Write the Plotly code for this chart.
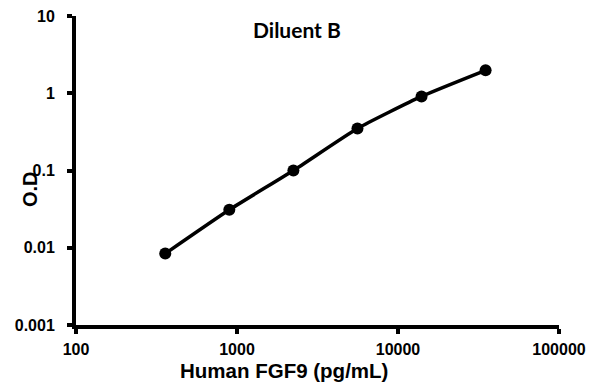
import plotly.graph_objects as go

concentration = [358.4, 896, 2240, 5600, 14000, 35000]
od = [0.0084, 0.031, 0.1, 0.35, 0.91, 1.98]
x_ticks = [100, 1000, 10000, 100000]
x_ticklabels = ["100", "1000", "10000", "100000"]
y_ticks = [0.001, 0.01, 0.1, 1, 10]
y_ticklabels = ["0.001", "0.01", "0.1", "1", "10"]

W, H = 595, 384
l, r, t, b = 76, 36, 16, 59
pw, ph = W - l - r, H - t - b
def px(xp): return (xp - l) / pw
def py(yp): return (H - b - yp) / ph

fig = go.Figure()
fig.add_trace(go.Scatter(
    x=concentration, y=od, mode="lines+markers",
    line=dict(color="black", width=3.5, shape="spline", smoothing=0.5),
    marker=dict(color="black", size=12),
    showlegend=False, cliponaxis=False,
))

axis_common = dict(
    showline=True, linecolor="black", linewidth=4,
    ticks="outside", ticklen=5, tickwidth=4, tickcolor="black",
    showgrid=False, zeroline=False, mirror=False, automargin=False,
    tickfont=dict(family="Liberation Sans, Arial", size=16, color="black"),
)

fig.update_xaxes(type="log", range=[2, 5], tickvals=x_ticks,
                 ticktext=["<b>%s</b>" % s for s in x_ticklabels],
                 ticklabelstandoff=2, **axis_common)
fig.update_yaxes(type="log", range=[-3, 1], tickvals=y_ticks,
                 ticktext=["<b>%s</b>" % s for s in y_ticklabels],
                 ticklabelstandoff=9, **axis_common)

fig.update_layout(
    width=W, height=H,
    margin=dict(l=l, r=r, t=t, b=b, pad=0, autoexpand=False),
    plot_bgcolor="white", paper_bgcolor="white",
)

fig.add_annotation(text="<b>Diluent B</b>", x=px(297), y=py(29), xref="paper", yref="paper",
                   xanchor="center", yanchor="middle", showarrow=False,
                   font=dict(family="Lato, Open Sans", size=21, color="black"))
fig.add_annotation(text="<b>Human FGF9 (pg/mL)</b>", x=px(284), y=py(370), xref="paper", yref="paper",
                   xanchor="center", yanchor="middle", showarrow=False,
                   font=dict(family="Liberation Sans, Arial", size=20.5, color="black"))
fig.add_annotation(text="<b>O.D</b>", x=px(30), y=py(189), xref="paper", yref="paper",
                   xanchor="center", yanchor="middle", showarrow=False, textangle=-90,
                   font=dict(family="Liberation Sans, Arial", size=20, color="black"))

fig.write_html("out.html", config={"displayModeBar": False},
               post_script="document.body.style.margin='0';document.body.style.overflow='hidden';")
